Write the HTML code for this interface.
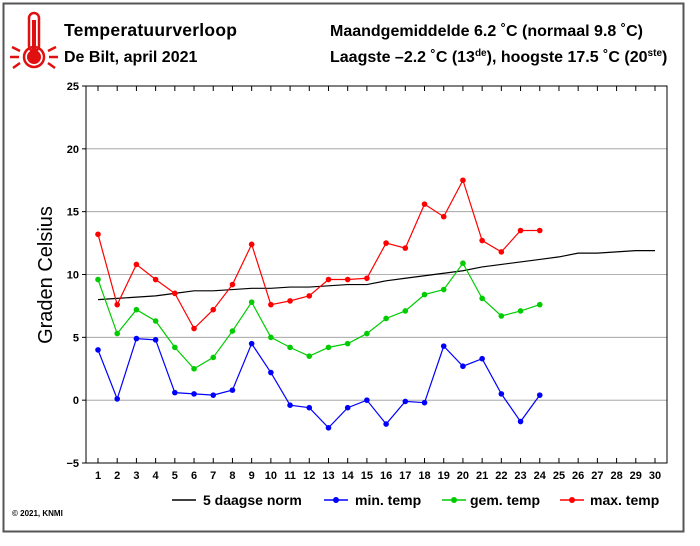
<!DOCTYPE html>
<html><head><meta charset="utf-8"><style>
body{margin:0;background:#fff;font-family:"Liberation Sans",sans-serif}
svg text{font-family:"Liberation Sans",sans-serif}
</style></head><body>
<svg id="c" width="700" height="541" xmlns="http://www.w3.org/2000/svg">
<rect x="3.5" y="3.5" width="680" height="528" fill="#fff" stroke="#555" stroke-width="2"/>
<g stroke="#e01010" fill="none" stroke-width="2.5">
<rect x="29" y="13" width="10" height="38" rx="5"/>
<line x1="34" y1="20" x2="34" y2="52" stroke-width="4"/>
<circle cx="34" cy="57" r="7" fill="#e01010" stroke="none"/>
<circle cx="34" cy="57" r="10"/>
<line x1="10" y1="57" x2="19" y2="57"/><line x1="49" y1="57" x2="58" y2="57"/>
<line x1="12" y1="47" x2="20" y2="51"/><line x1="56" y1="47" x2="48" y2="51"/>
<line x1="13" y1="68" x2="20" y2="63"/><line x1="55" y1="68" x2="48" y2="63"/>
</g>
<text x="64" y="36" font-size="17.5" font-weight="bold" textLength="173">Temperatuurverloop</text>
<text x="64" y="62" font-size="16" font-weight="bold">De Bilt, april 2021</text>
<text x="330" y="36" font-size="16" font-weight="bold">Maandgemiddelde 6.2 ˚C (normaal 9.8 ˚C)</text>
<text x="330" y="62" font-size="16" font-weight="bold">Laagste –2.2 ˚C (13<tspan dy="-6" font-size="10">de</tspan><tspan dy="6">), hoogste 17.5 ˚C (20</tspan><tspan dy="-6" font-size="10">ste</tspan><tspan dy="6">)</tspan></text>
<text transform="translate(52,275) rotate(-90)" text-anchor="middle" font-size="20">Graden Celsius</text>
<text x="12" y="516" font-size="8" font-weight="bold">© 2021, KNMI</text>
<g id="plot"></g>
<g font-size="14" font-weight="bold">
<g><line x1="172" y1="500" x2="196" y2="500" stroke="#000" stroke-width="1.5"/><text x="203" y="505">5 daagse norm</text></g>
<g><line x1="324" y1="500" x2="348" y2="500" stroke="#0000ff" stroke-width="1.5"/><circle cx="336" cy="500" r="3" fill="#0000ff"/><text x="355" y="505">min. temp</text></g>
<g><line x1="442" y1="500" x2="466" y2="500" stroke="#00cc00" stroke-width="1.5"/><circle cx="454" cy="500" r="3" fill="#00cc00"/><text x="470" y="505">gem. temp</text></g>
<g><line x1="560" y1="500" x2="584" y2="500" stroke="#ff0000" stroke-width="1.5"/><circle cx="572" cy="500" r="3" fill="#ff0000"/><text x="590" y="505">max. temp</text></g>
</g>
</svg>
<script>
const days=[1,2,3,4,5,6,7,8,9,10,11,12,13,14,15,16,17,18,19,20,21,22,23,24,25,26,27,28,29,30];
const yTicks=[-5,0,5,10,15,20,25];
const normTemp=[8.0,8.1,8.2,8.3,8.5,8.7,8.7,8.8,8.9,8.9,9.0,9.0,9.1,9.2,9.2,9.5,9.7,9.9,10.1,10.3,10.6,10.8,11.0,11.2,11.4,11.7,11.7,11.8,11.9,11.9];
const maxTemp=[13.2,7.6,10.8,9.6,8.5,5.7,7.2,9.2,12.4,7.6,7.9,8.3,9.6,9.6,9.7,12.5,12.1,15.6,14.6,17.5,12.7,11.8,13.5,13.5];
const meanTemp=[9.6,5.3,7.2,6.3,4.2,2.5,3.4,5.5,7.8,5.0,4.2,3.5,4.2,4.5,5.3,6.5,7.1,8.4,8.8,10.9,8.1,6.7,7.1,7.6];
const minTemp=[4.0,0.1,4.9,4.8,0.6,0.5,0.4,0.8,4.5,2.2,-0.4,-0.6,-2.2,-0.6,0.0,-1.9,-0.1,-0.2,4.3,2.7,3.3,0.5,-1.7,0.4];
const NS="http://www.w3.org/2000/svg";
const L=86,R=667,T=86,B=463;
const x=d=>98+(d-1)*(655-98)/29;
const y=v=>B-(v+5)/30*(B-T);
const g=document.getElementById('plot');
function mk(t,a){const e=document.createElementNS(NS,t);for(const k in a)e.setAttribute(k,a[k]);g.appendChild(e);return e;}
yTicks.forEach(v=>{
 if(v>-5&&v<25){const gl=mk('line',{x1:L,x2:R,y1:y(v),y2:y(v),stroke:'#999','stroke-width':0.8});
 
 }
 const tk=mk('line',{x1:L-4,x2:L,y1:y(v),y2:y(v),stroke:'#000'});
 
 
 const t=mk('text',{x:L-7,y:y(v)+4,'text-anchor':'end','font-size':11,'font-weight':'bold'});t.textContent=v===-5?'−5':v;
 
 
});
days.forEach(d=>{
 [[T,T+5],[B-5,B]].forEach(p=>{const tk=mk('line',{x1:x(d),x2:x(d),y1:p[0],y2:p[1],stroke:'#000'});
 
 });
 const t=mk('text',{x:x(d),y:B+16,'text-anchor':'middle','font-size':11,'font-weight':'bold'});t.textContent=d;
 
 
});
const fr=mk('rect',{x:L,y:T,width:R-L,height:B-T,fill:'none',stroke:'#000','stroke-width':1});


function series(arr,col,name,dots){
 const pts=arr.map((v,i)=>x(days[i])+','+y(v)).join(' ');
 const pl=mk('polyline',{points:pts,fill:'none',stroke:col,'stroke-width':1.2});
 
 
 if(dots)arr.forEach((v,i)=>{const c=mk('circle',{cx:x(days[i]),cy:y(v),r:2.8,fill:col});
 
 });
}
series(normTemp,'#000','norm',false);
series(minTemp,'#0000ff','min-temp',true);
series(meanTemp,'#00cc00','mean-temp',true);
series(maxTemp,'#ff0000','max-temp',true);
</script>
</body></html>
